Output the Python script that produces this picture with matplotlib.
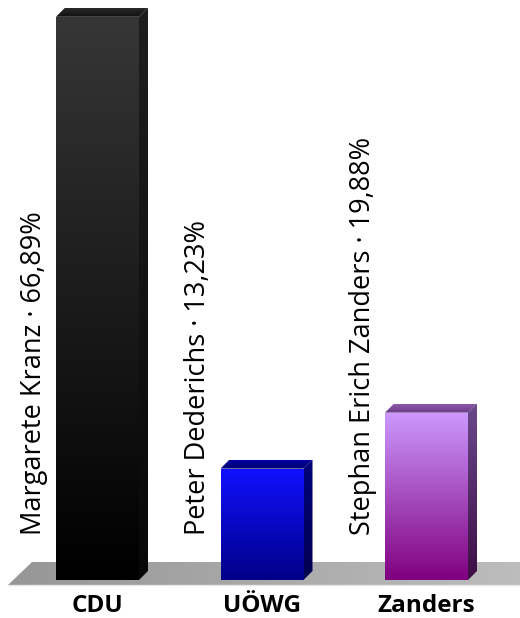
import numpy as np
import matplotlib.pyplot as plt
from matplotlib.patches import Polygon
from matplotlib.colors import to_rgb

parties = ['CDU', 'UÖWG', 'Zanders']
candidates = ['Margarete Kranz', 'Peter Dederichs', 'Stephan Erich Zanders']
shares = [66.89, 13.23, 19.88]
share_labels = ['66,89%', '13,23%', '19,88%']

# front (top, bottom), side (top, bottom), top face colours
front_cols = [('#363636', '#000000'), ('#1010ff', '#000088'), ('#cc99ff', '#800080')]
side_cols = [('#1e1e1e', '#080808'), ('#00007a', '#000050'), ('#6a4a8c', '#3c0e44')]
top_cols = [('#2a2a2a', '#101010'), ('#0000a0', '#000070'), ('#8a5aa8', '#6a3a88')]

plt.rcParams['font.family'] = ['Open Sans', 'DejaVu Sans']

fig = plt.figure(figsize=(5.2, 6.18), dpi=100)
ax = fig.add_axes([0, 0, 1, 1])
ax.axis('off')

px_x = 164.5   # pixels per category step
px_y = 8.42    # pixels per percent
x = np.arange(len(parties))
w = 83 / px_x
dx, dy = 9 / px_x, 9 / px_y


def grad_poly(verts, c1, c2, z, horizontal=False):
    poly = Polygon(verts, closed=True, facecolor='none', edgecolor='none')
    ax.add_patch(poly)
    xs, ys = zip(*verts)
    t = np.linspace(0, 1, 256)
    a, b = np.array(to_rgb(c1)), np.array(to_rgb(c2))
    cols = a[None, :] * (1 - t[:, None]) + b[None, :] * t[:, None]
    if horizontal:
        img = np.repeat(cols[None, :, :], 2, axis=0)
    else:
        img = np.repeat(cols[:, None, :], 2, axis=1)
    im = ax.imshow(img, extent=(min(xs), max(xs), min(ys), max(ys)), origin='upper',
                   aspect='auto', interpolation='bilinear', zorder=z)
    im.set_clip_path(poly)


# grey floor
fl, fr = x[0] - 0.544, x[-1] + 0.02 + 0.56
fy0, fy1 = -5 / px_y, 18 / px_y
grad_poly([(fl, fy0), (fl + 0.146, fy1), (fr + 0.12, fy1), (fr, fy0)], '#969696', '#bebebe', 1, horizontal=True)
ax.plot([fl, fr], [fy0, fy0], color='#e6e6e6', lw=1, zorder=1.5)

for i in range(len(parties)):
    x0, x1, h = x[i] - w / 2, x[i] + w / 2, shares[i]
    grad_poly([(x0, h), (x0 + dx, h + dy), (x1 + dx, h + dy), (x1, h)], *top_cols[i], 2)
    grad_poly([(x1, 0), (x1 + dx, dy), (x1 + dx, h + dy), (x1, h)], *side_cols[i], 2)
    grad_poly([(x0, 0), (x0, h), (x1, h), (x1, 0)], *front_cols[i], 3)
    ax.text(x0 - 8 / px_x, 45 / px_y, f'{candidates[i]} · {share_labels[i]}', rotation=90,
            ha='right', va='bottom', fontsize=19.5, color='black', zorder=4)
    ax.text(x[i], -32 / px_y, parties[i], ha='center', va='baseline',
            fontsize=17.5, fontweight='bold', color='black', zorder=4)

ax.set_xlim(-97.5 / px_x, (520 - 97.5) / px_x)
ax.set_ylim(-38 / px_y, 580 / px_y)

fig.savefig('out.png', dpi=100)
